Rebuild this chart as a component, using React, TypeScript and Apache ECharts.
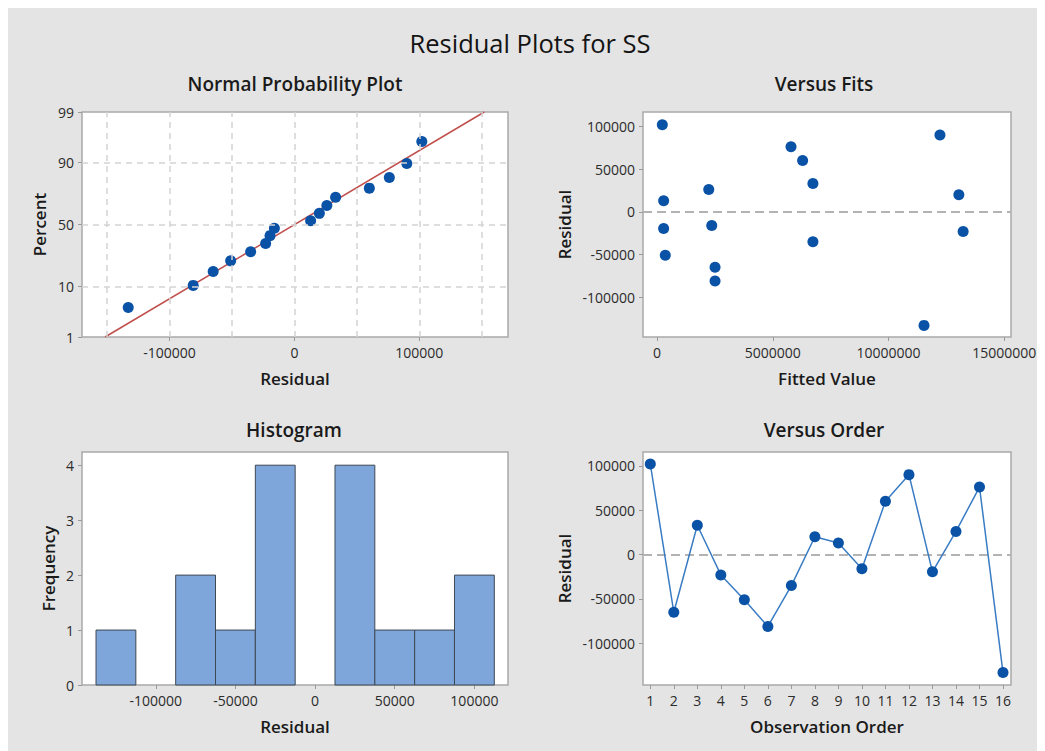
import React, { useEffect, useRef } from "react";
import * as echarts from "echarts";

// ---------------- data ----------------
const observations = [1, 2, 3, 4, 5, 6, 7, 8, 9, 10, 11, 12, 13, 14, 15, 16];
const residuals = [102000, -65000, 33000, -23000, -51000, -81000, -35000, 20000, 13000, -16000, 60000, 90000, -19500, 26000, 76000, -133000];
const fittedValues = [229000, 2507000, 6734000, 13223000, 358000, 2507000, 6734000, 13037000, 287000, 2364000, 6289000, 12221000, 287000, 2235000, 5788000, 11533000];
const probPercents = [4.3, 10.4, 16.5, 22.6, 28.7, 34.8, 40.9, 47.0, 53.0, 59.1, 65.2, 71.3, 77.4, 83.5, 89.6, 95.7];
const fitLineResiduals = [-151500, 152000];
const fitLinePercents = [1, 99];
const histBinCenters = [-125000, -100000, -75000, -50000, -25000, 0, 25000, 50000, 75000, 100000];
const histCounts = [1, 0, 2, 1, 4, 0, 4, 1, 1, 2];
const histBinWidth = 25000;

const percentTicks = [1, 10, 50, 90, 99];
const nppResidualTicks = [-100000, 0, 100000];
const nppGridResiduals = [-150000, -100000, -50000, 0, 50000, 100000, 150000];
const nppGridPercents = [10, 50, 90];
const fitsTicks = [0, 5000000, 10000000, 15000000];
const residualTicks = [-100000, -50000, 0, 50000, 100000];
const histXTicks = [-100000, -50000, 0, 50000, 100000];
const freqTicks = [0, 1, 2, 3, 4];

// inverse standard normal CDF (probability-scale transform)
function probit(p: number): number {
  const a = [-3.969683028665376e1, 2.209460984245205e2, -2.759285104469687e2, 1.38357751867269e2, -3.066479806614716e1, 2.506628277459239];
  const b = [-5.447609879822406e1, 1.615858368580409e2, -1.556989798598866e2, 6.680131188771972e1, -1.328068155288572e1];
  const c = [-7.784894002430293e-3, -3.223964580411365e-1, -2.400758277161838, -2.549732539343734, 4.374664141464968, 2.938163982698783];
  const d = [7.784695709041462e-3, 3.224671290700398e-1, 2.445134137142996, 3.754408661907416];
  const pl = 0.02425;
  if (p < pl) {
    const q = Math.sqrt(-2 * Math.log(p));
    return (((((c[0] * q + c[1]) * q + c[2]) * q + c[3]) * q + c[4]) * q + c[5]) / ((((d[0] * q + d[1]) * q + d[2]) * q + d[3]) * q + 1);
  }
  if (p <= 1 - pl) {
    const q = p - 0.5;
    const r = q * q;
    return ((((((a[0] * r + a[1]) * r + a[2]) * r + a[3]) * r + a[4]) * r + a[5]) * q) / (((((b[0] * r + b[1]) * r + b[2]) * r + b[3]) * r + b[4]) * r + 1);
  }
  const q = Math.sqrt(-2 * Math.log(1 - p));
  return -(((((c[0] * q + c[1]) * q + c[2]) * q + c[3]) * q + c[4]) * q + c[5]) / ((((d[0] * q + d[1]) * q + d[2]) * q + d[3]) * q + 1);
}
const zOf = (pct: number) => probit(pct / 100);

const FONT = "'Open Sans', 'Noto Sans', sans-serif";
const DOT = "#0a52a6";
const BORDER = "#a9a9a9";
const TICK = "#9a9a9a";
const LABEL = "#2b2b2b";

function axisCommon(ticks: number[], formatter?: (v: number) => string) {
  return {
    axisLine: { show: false, onZero: false },
    axisTick: { show: true, length: 4, lineStyle: { color: TICK, width: 1 }, customValues: ticks },
    axisLabel: {
      customValues: ticks,
      margin: 8,
      fontSize: 14,
      color: LABEL,
      fontFamily: FONT,
      formatter: formatter || ((v: number) => String(Math.round(v))),
    },
    splitLine: { show: false },
    nameLocation: "middle" as const,
    nameTextStyle: { fontSize: 17, fontWeight: 600, color: "#1a1a1a", fontFamily: FONT },
  };
}

export default function App() {
  const ref = useRef<HTMLDivElement>(null);
  useEffect(() => {
    if (!ref.current) return;
    const chart = echarts.init(ref.current, undefined, { renderer: "svg" });

    const sortedRes = [...residuals].sort((a, b) => a - b);
    const nppData = sortedRes.map((r, i) => [r, zOf(probPercents[i])]);
    const lineData = fitLineResiduals.map((r, i) => [r, zOf(fitLinePercents[i])]);
    const pctFormatter = (v: number) => {
      let best = percentTicks[0];
      let bd = Infinity;
      percentTicks.forEach((p) => {
        const dd = Math.abs(zOf(p) - v);
        if (dd < bd) {
          bd = dd;
          best = p;
        }
      });
      return String(best);
    };
    const histData = histBinCenters.map((c, i) => [c - histBinWidth / 2, c + histBinWidth / 2, histCounts[i]]);

    const gridStyle = { show: true, backgroundColor: "#ffffff", borderColor: BORDER, borderWidth: 1.5 };
    const subTitle = (text: string, left: number, top: number) => ({
      text,
      left,
      top,
      textAlign: "center",
      padding: 0,
      textStyle: { fontSize: 19, fontWeight: 600, color: "#1a1a1a", fontFamily: FONT },
    });

    const option: any = {
      animation: false,
      backgroundColor: "#e4e4e4",
      title: [
        { text: "Residual Plots for SS", left: 522, top: 22, textAlign: "center", padding: 0, textStyle: { fontSize: 25.5, fontWeight: 500, color: "#141414", fontFamily: FONT } },
        subTitle("Normal Probability Plot", 287, 66),
        subTitle("Versus Fits", 816, 66),
        subTitle("Histogram", 286, 412),
        subTitle("Versus Order", 816, 412),
      ],
      grid: [
        { left: 74, top: 104, width: 426, height: 225, ...gridStyle },
        { left: 635, top: 104, width: 368, height: 225, ...gridStyle },
        { left: 74, top: 444, width: 426, height: 233, ...gridStyle },
        { left: 635, top: 444, width: 368, height: 233, ...gridStyle },
      ],
      xAxis: [
        { type: "value", gridIndex: 0, min: -170000, max: 171000, name: "Residual", nameGap: 33, ...axisCommon(nppResidualTicks) },
        { type: "value", gridIndex: 1, min: -605000, max: 15290000, name: "Fitted Value", nameGap: 33, ...axisCommon(fitsTicks) },
        { type: "value", gridIndex: 2, min: -146300, max: 121100, name: "Residual", nameGap: 33, ...axisCommon(histXTicks) },
        { type: "value", gridIndex: 3, min: 0.69, max: 16.34, name: "Observation Order", nameGap: 33, ...axisCommon(observations) },
      ],
      yAxis: [
        { type: "value", gridIndex: 0, min: zOf(1), max: zOf(99), name: "Percent", nameGap: 34, ...axisCommon(percentTicks.map(zOf), pctFormatter) },
        { type: "value", gridIndex: 1, min: -146600, max: 116800, name: "Residual", nameGap: 70, ...axisCommon(residualTicks) },
        { type: "value", gridIndex: 2, min: 0, max: 4.24, name: "Frequency", nameGap: 25, ...axisCommon(freqTicks) },
        { type: "value", gridIndex: 3, min: -147000, max: 115500, name: "Residual", nameGap: 70, ...axisCommon(residualTicks) },
      ],
      series: [
        {
          type: "line",
          xAxisIndex: 0,
          yAxisIndex: 0,
          data: [],
          z: 1,
          markLine: {
            silent: true,
            symbol: "none",
            label: { show: false },
            lineStyle: { color: "#d4d4d4", type: [6, 5], width: 1.5 },
            data: [...nppGridResiduals.map((x) => ({ xAxis: x })), ...nppGridPercents.map((p) => ({ yAxis: zOf(p) }))],
          },
        },
        {
          type: "line",
          xAxisIndex: 0,
          yAxisIndex: 0,
          data: lineData,
          showSymbol: false,
          symbol: "none",
          lineStyle: { color: "#c0504d", width: 1.5 },
          z: 2,
        },
        {
          type: "scatter",
          xAxisIndex: 0,
          yAxisIndex: 0,
          data: nppData,
          symbolSize: 11,
          itemStyle: { color: DOT, opacity: 1 },
          z: 3,
        },
        {
          type: "scatter",
          xAxisIndex: 1,
          yAxisIndex: 1,
          data: fittedValues.map((f, i) => [f, residuals[i]]),
          symbolSize: 11,
          itemStyle: { color: DOT, opacity: 1 },
          z: 3,
          markLine: {
            silent: true,
            symbol: "none",
            label: { show: false },
            lineStyle: { color: "#b3b3b3", type: [9, 5], width: 2 },
            data: [{ yAxis: 0 }],
          },
        },
        {
          type: "custom",
          xAxisIndex: 2,
          yAxisIndex: 2,
          data: histData,
          encode: { x: [0, 1], y: 2 },
          renderItem: (params: any, api: any) => {
            const lo = api.value(0);
            const hi = api.value(1);
            const n = api.value(2);
            if (!n) return null;
            const p0 = api.coord([lo, 0]);
            const p1 = api.coord([hi, n]);
            return {
              type: "rect",
              shape: { x: p0[0], y: p1[1], width: p1[0] - p0[0], height: p0[1] - p1[1] },
              style: { fill: "#7ea6da", stroke: "#3e4853", lineWidth: 1 },
            };
          },
        },
        {
          type: "line",
          xAxisIndex: 3,
          yAxisIndex: 3,
          data: observations.map((o, i) => [o, residuals[i]]),
          symbol: "circle",
          symbolSize: 11,
          itemStyle: { color: DOT },
          lineStyle: { color: "#3a7cc4", width: 1.5 },
          z: 3,
          markLine: {
            silent: true,
            symbol: "none",
            label: { show: false },
            lineStyle: { color: "#b3b3b3", type: [9, 5], width: 2 },
            data: [{ yAxis: 0 }],
            z: 1,
          },
        },
      ],
    };
    chart.setOption(option);
    return () => chart.dispose();
  }, []);
  return <div ref={ref} style={{ width: 1037, height: 743 }} />;
}
